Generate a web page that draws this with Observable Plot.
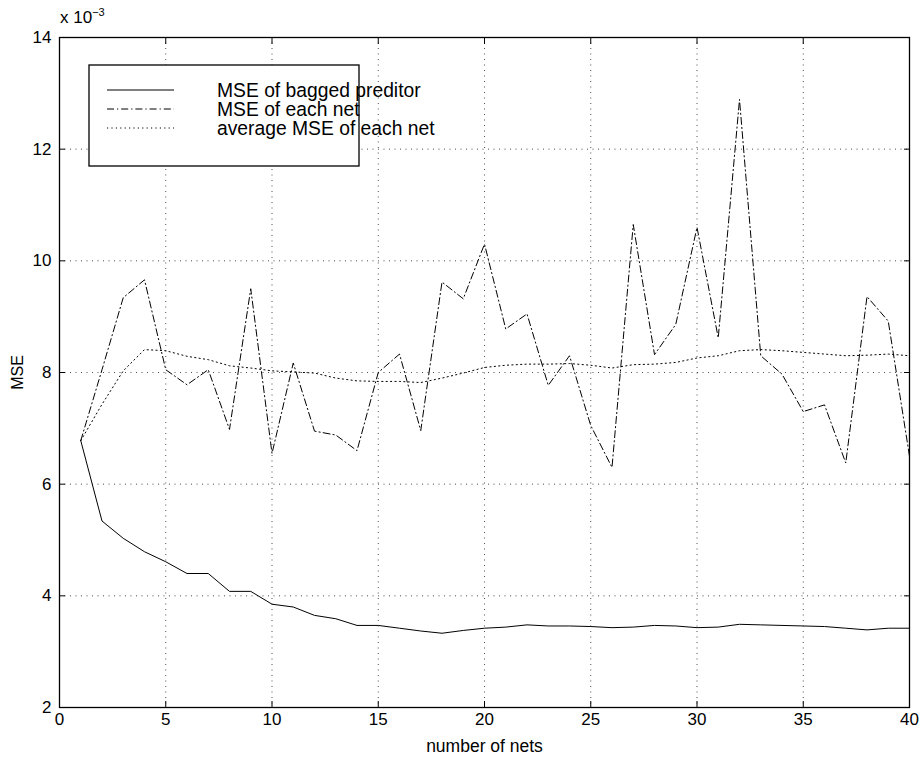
<!DOCTYPE html>
<html><head><meta charset="utf-8">
<script src="https://cdn.jsdelivr.net/npm/d3@7"></script>
<script src="https://cdn.jsdelivr.net/npm/@observablehq/plot@0.6"></script>
<style>
body{margin:0;background:#fff}
svg{font-family:"Liberation Sans",Arial,Helvetica,sans-serif}
</style>
</head><body><div id="chart"></div>
<script>
// number of nets (x)
const nets = d3.range(1, 41);
// MSE values, in units of 10^-3
const bagged = [6.78, 5.34, 5.03, 4.79, 4.61, 4.40, 4.40, 4.08, 4.08, 3.85,
                3.80, 3.65, 3.59, 3.47, 3.47, 3.42, 3.37, 3.33, 3.38, 3.42,
                3.44, 3.48, 3.46, 3.46, 3.45, 3.43, 3.44, 3.47, 3.46, 3.43,
                3.44, 3.49, 3.48, 3.47, 3.46, 3.45, 3.42, 3.39, 3.42, 3.42];
const eachNet = [6.78, 8.05, 9.34, 9.66, 8.05, 7.78, 8.05, 6.98, 9.50, 6.55,
                 8.17, 6.95, 6.88, 6.60, 8.00, 8.33, 6.96, 9.62, 9.32, 10.30,
                 8.78, 9.05, 7.77, 8.30, 7.05, 6.30, 10.65, 8.32, 8.86, 10.60,
                 8.62, 12.89, 8.30, 7.97, 7.30, 7.42, 6.38, 9.36, 8.92, 6.50];
const avgNet = [6.78, 7.43, 8.03, 8.41, 8.39, 8.29, 8.23, 8.12, 8.08, 8.03,
                8.01, 7.99, 7.90, 7.85, 7.84, 7.84, 7.82, 7.90, 7.99, 8.09,
                8.13, 8.15, 8.15, 8.16, 8.13, 8.08, 8.14, 8.15, 8.18, 8.26,
                8.30, 8.39, 8.41, 8.39, 8.36, 8.33, 8.30, 8.31, 8.33, 8.30];
const seriesNames = ["MSE of bagged preditor", "MSE of each net", "average MSE of each net"];
const xTicks = [0, 5, 10, 15, 20, 25, 30, 35, 40];
const yTicks = [2, 4, 6, 8, 10, 12, 14];
const dashes = ["none", "7,3,1.2,3", "1.2,3.2"];

const rows = (vals, s) => vals.map((v, i) => ({n: nets[i], v, s}));
const bRows = rows(bagged, seriesNames[0]);
const eRows = rows(eachNet, seriesNames[1]);
const aRows = rows(avgNet, seriesNames[2]);

const gridStyle = {stroke: "#000", strokeOpacity: 0.7, strokeDasharray: "1,4.5"};
const blank = () => "";
const fmt = d3.format("d");

const chart = Plot.plot({
  width: 922, height: 757,
  marginLeft: 59, marginRight: 13, marginTop: 37, marginBottom: 50,
  style: {fontSize: "16px", fontFamily: '"Liberation Sans", Arial, sans-serif', color: "#000", background: "#fff"},
  x: {domain: [0, 40]},
  y: {domain: [2, 14]},
  marks: [
    Plot.gridX(xTicks, gridStyle),
    Plot.gridY(yTicks, gridStyle),
    Plot.line(aRows, {x: "n", y: "v", stroke: "#000", strokeWidth: 1, strokeDasharray: dashes[2]}),
    Plot.line(eRows, {x: "n", y: "v", stroke: "#000", strokeWidth: 1, strokeDasharray: dashes[1]}),
    Plot.line(bRows, {x: "n", y: "v", stroke: "#000", strokeWidth: 1}),
    Plot.frame({stroke: "#000", strokeWidth: 1.3}),
    // labels
    Plot.axisX(xTicks, {anchor: "bottom", tickSize: 0, tickPadding: 5, tickFormat: fmt, fontSize: 17, label: "number of nets", labelAnchor: "center", labelOffset: 44, labelArrow: "none"}),
    Plot.axisY(yTicks, {anchor: "left", tickSize: 0, tickPadding: 8, tickFormat: fmt, fontSize: 17, label: "MSE", labelAnchor: "center", labelOffset: 48, labelArrow: "none"}),
    // inward ticks on all four sides
    Plot.axisX(xTicks, {anchor: "bottom", tickSize: 6, dy: -6, tickFormat: blank, label: null}),
    Plot.axisX(xTicks, {anchor: "top", tickSize: 6, dy: 6, tickFormat: blank, label: null}),
    Plot.axisY(yTicks, {anchor: "left", tickSize: 6, dx: 6, tickFormat: blank, label: null}),
    Plot.axisY(yTicks, {anchor: "right", tickSize: 6, dx: -6, tickFormat: blank, label: null})
  ]
});
document.getElementById("chart").appendChild(chart);

const svg = d3.select(chart);
// axis titles sized like the reference
svg.selectAll("[aria-label='x-axis label'] text").attr("font-size", 17.5);
svg.selectAll("[aria-label='y-axis label'] text").attr("font-size", 16);

// exponent label
const exp = svg.append("text").attr("x", 60).attr("y", 23).attr("font-size", 17)
  .attr("fill", "#000").attr("text-anchor", "start");
exp.append("tspan").text("x 10");
exp.append("tspan").attr("dy", -7).attr("font-size", 11).text("\u22123");

// legend
const lg = svg.append("g").attr("transform", "translate(89,65)");
lg.append("rect").attr("width", 270).attr("height", 101).attr("fill", "#fff")
  .attr("stroke", "#000").attr("stroke-width", 1.3);
seriesNames.forEach((name, i) => {
  const y = 25 + i * 19;
  lg.append("line").attr("x1", 18).attr("x2", 85).attr("y1", y).attr("y2", y)
    .attr("stroke", "#000").attr("stroke-width", 1).attr("stroke-dasharray", dashes[i]);
  lg.append("text").attr("x", 128).attr("y", y).attr("dy", "0.36em")
    .attr("font-size", 19.3).attr("fill", "#000").attr("text-anchor", "start").text(name);
});
</script>
</body></html>
